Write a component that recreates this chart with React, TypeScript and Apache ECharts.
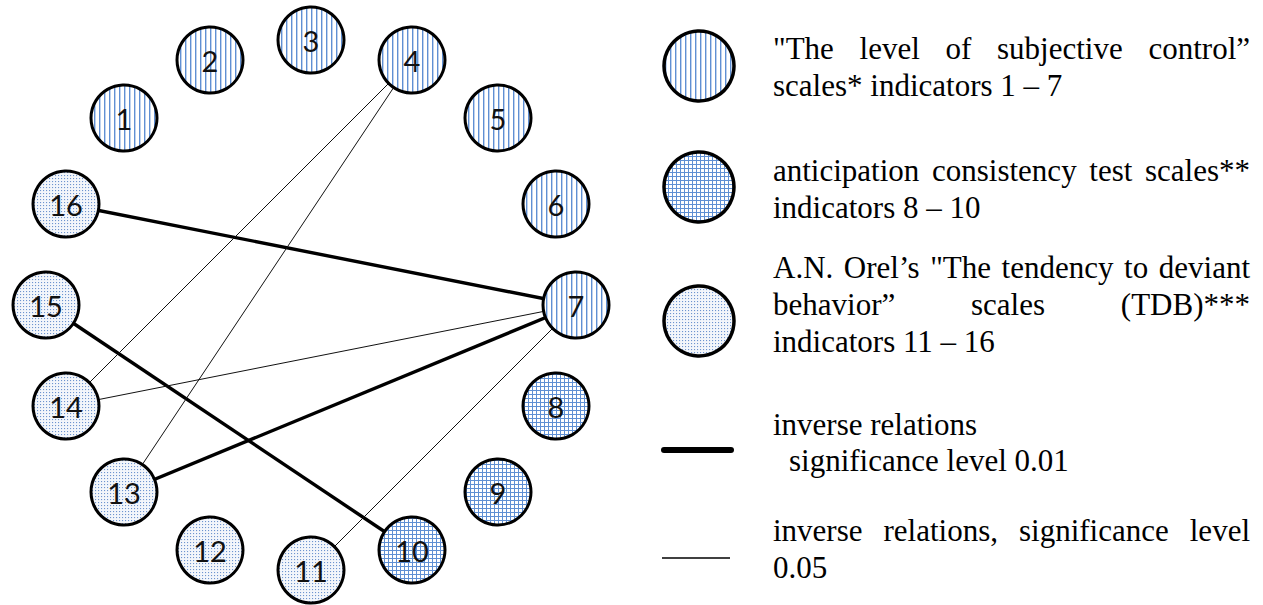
import React, { useEffect, useRef } from "react";
import * as echarts from "echarts";

// ---- data ----
const nodeNames = ["1", "2", "3", "4", "5", "6", "7", "8", "9", "10", "11", "12", "13", "14", "15", "16"];
const nodeX = [124, 210, 311, 412, 498, 556, 576, 556, 498, 412, 311, 210, 124, 66, 46, 66];
const nodeY = [118, 60, 40, 60, 118, 204, 305, 406, 492, 550, 570, 550, 492, 406, 305, 204];
// 0 = level of subjective control, 1 = anticipation consistency, 2 = TDB
const nodeGroup = [0, 0, 0, 0, 0, 0, 0, 1, 1, 1, 2, 2, 2, 2, 2, 2];
const strongLinks = [["16", "7"], ["15", "10"], ["13", "7"]];
const weakLinks = [["4", "14"], ["4", "13"], ["14", "7"], ["11", "7"]];

const legendLines: { text: string; justify: boolean; indent?: number }[][] = [
  [
    { text: "\"The level of subjective control\u201D", justify: true },
    { text: "scales* indicators 1 \u2013 7", justify: false },
  ],
  [
    { text: "anticipation consistency test scales**", justify: true },
    { text: "indicators 8 \u2013 10", justify: false },
  ],
  [
    { text: "A.N. Orel\u2019s \"The tendency to deviant", justify: true },
    { text: "behavior\u201D scales (TDB)***", justify: true },
    { text: "indicators 11 \u2013 16", justify: false },
  ],
  [
    { text: "inverse relations", justify: false },
    { text: "significance level 0.01", justify: false, indent: 16 },
  ],
  [
    { text: "inverse relations, significance level", justify: true },
    { text: "0.05", justify: false },
  ],
];

// ---- patterns ----
const svgUrl = (s: string) => "data:image/svg+xml;charset=utf-8," + encodeURIComponent(s);
const BLUE = "#5f8fd3";
const stripeImg = svgUrl(
  `<svg xmlns="http://www.w3.org/2000/svg" width="5" height="5"><rect width="5" height="5" fill="#fff"/><rect x="0" y="0" width="1.4" height="5" fill="${BLUE}"/></svg>`
);
const gridImg = svgUrl(
  `<svg xmlns="http://www.w3.org/2000/svg" width="4" height="4"><rect width="4" height="4" fill="#fff"/><rect x="0" y="0" width="1" height="4" fill="${BLUE}"/><rect x="0" y="0" width="4" height="1" fill="${BLUE}"/></svg>`
);
const dotImg = svgUrl(
  `<svg xmlns="http://www.w3.org/2000/svg" width="3" height="3"><rect width="3" height="3" fill="#f3f6fb"/><rect x="1" y="1" width="1.1" height="1.1" fill="#6e94cf"/></svg>`
);
const imgs = [stripeImg, gridImg, dotImg];
const tileSizes = [5, 4, 3];

const makePattern = (g: number, scale: number) => ({
  image: imgs[g],
  imageWidth: tileSizes[g],
  imageHeight: tileSizes[g],
  repeat: "repeat",
  scaleX: scale,
  scaleY: scale,
});

const FONT_SIZE = 31;
const FONT_FAMILY = "Liberation Serif";
const SYMBOL_SIZE = 66;

function measure(text: string): number {
  const c = document.createElement("canvas").getContext("2d");
  if (!c) return text.length * FONT_SIZE * 0.45;
  c.font = `${FONT_SIZE}px "${FONT_FAMILY}"`;
  return c.measureText(text).width;
}

function textLine(text: string, x0: number, x1: number, y: number, justify: boolean): any[] {
  const style = (t: string) => ({
    text: t,
    fontSize: FONT_SIZE,
    fontFamily: FONT_FAMILY,
    fill: "#000",
    verticalAlign: "middle",
    align: "left",
  });
  if (!justify) return [{ type: "text", x: x0, y, silent: true, style: style(text) }];
  const words = text.split(" ");
  const widths = words.map(measure);
  const total = widths.reduce((a, b) => a + b, 0);
  const gap = words.length > 1 ? (x1 - x0 - total) / (words.length - 1) : 0;
  let x = x0;
  return words.map((w, i) => {
    const el = { type: "text", x, y, silent: true, style: style(w) };
    x += widths[i] + gap;
    return el;
  });
}

export default function App() {
  const ref = useRef<HTMLDivElement>(null);
  useEffect(() => {
    if (!ref.current) return;
    const chart = echarts.init(ref.current, null, { renderer: "svg" });

    // symbol paths are unit-size (2x2) and scaled by symbolSize/2, so undo that for the fill pattern
    const nodeScale = 2 / SYMBOL_SIZE;
    const data = nodeNames.map((n, i) => ({
      name: n,
      value: [nodeX[i], nodeY[i]],
      itemStyle: { color: makePattern(nodeGroup[i], nodeScale) as any },
    }));
    const links = [
      ...strongLinks.map(([s, t]) => ({ source: s, target: t, lineStyle: { width: 3.4, color: "#000", opacity: 1 } })),
      ...weakLinks.map(([s, t]) => ({ source: s, target: t, lineStyle: { width: 1, color: "#111", opacity: 1 } })),
    ];

    // legend graphics
    const TX0 = 773;
    const TX1 = 1250;
    const lineMiddles = [
      [48, 85],
      [170, 207],
      [267, 304, 341],
      [424, 460],
      [530, 567],
    ];
    const graphics: any[] = [];
    const iconCY = [66, 187, 321];
    iconCY.forEach((cy, i) => {
      graphics.push({
        type: "circle",
        silent: true,
        shape: { cx: 699, cy, r: 35 },
        style: { fill: makePattern(i, 1) as any, stroke: "#000", lineWidth: 3.5 },
      });
    });
    graphics.push({
      type: "line",
      silent: true,
      shape: { x1: 664, y1: 450, x2: 731, y2: 450 },
      style: { stroke: "#000", lineWidth: 6, lineCap: "round" },
    });
    graphics.push({
      type: "line",
      silent: true,
      shape: { x1: 662, y1: 558, x2: 730, y2: 558 },
      style: { stroke: "#000", lineWidth: 1.3 },
    });
    legendLines.forEach((block, bi) => {
      block.forEach((ln, li) => {
        graphics.push(...textLine(ln.text, TX0 + (ln.indent || 0), TX1, lineMiddles[bi][li], ln.justify));
      });
    });

    chart.setOption({
      animation: false,
      backgroundColor: "#fff",
      grid: { left: 0, right: 0, top: 0, bottom: 0 },
      xAxis: { type: "value", min: 0, max: 1263, show: false },
      yAxis: { type: "value", min: 0, max: 605, inverse: true, show: false },
      series: [
        {
          type: "graph",
          coordinateSystem: "cartesian2d",
          layout: "none",
          symbol: "circle",
          symbolSize: SYMBOL_SIZE,
          silent: true,
          data,
          links,
          itemStyle: { borderColor: "#000", borderWidth: 3 },
          lineStyle: { curveness: 0 },
          label: {
            show: true,
            position: "inside",
            formatter: "{b}",
            fontFamily: "Lato",
            fontSize: 29,
            color: "#111",
          },
          emphasis: { disabled: true },
        },
      ],
      graphic: graphics,
    });
    return () => chart.dispose();
  }, []);
  return (
    <div
      ref={ref}
      style={{ position: "absolute", left: 0, top: 0, width: 1263, height: 605, background: "#fff" }}
    />
  );
}
